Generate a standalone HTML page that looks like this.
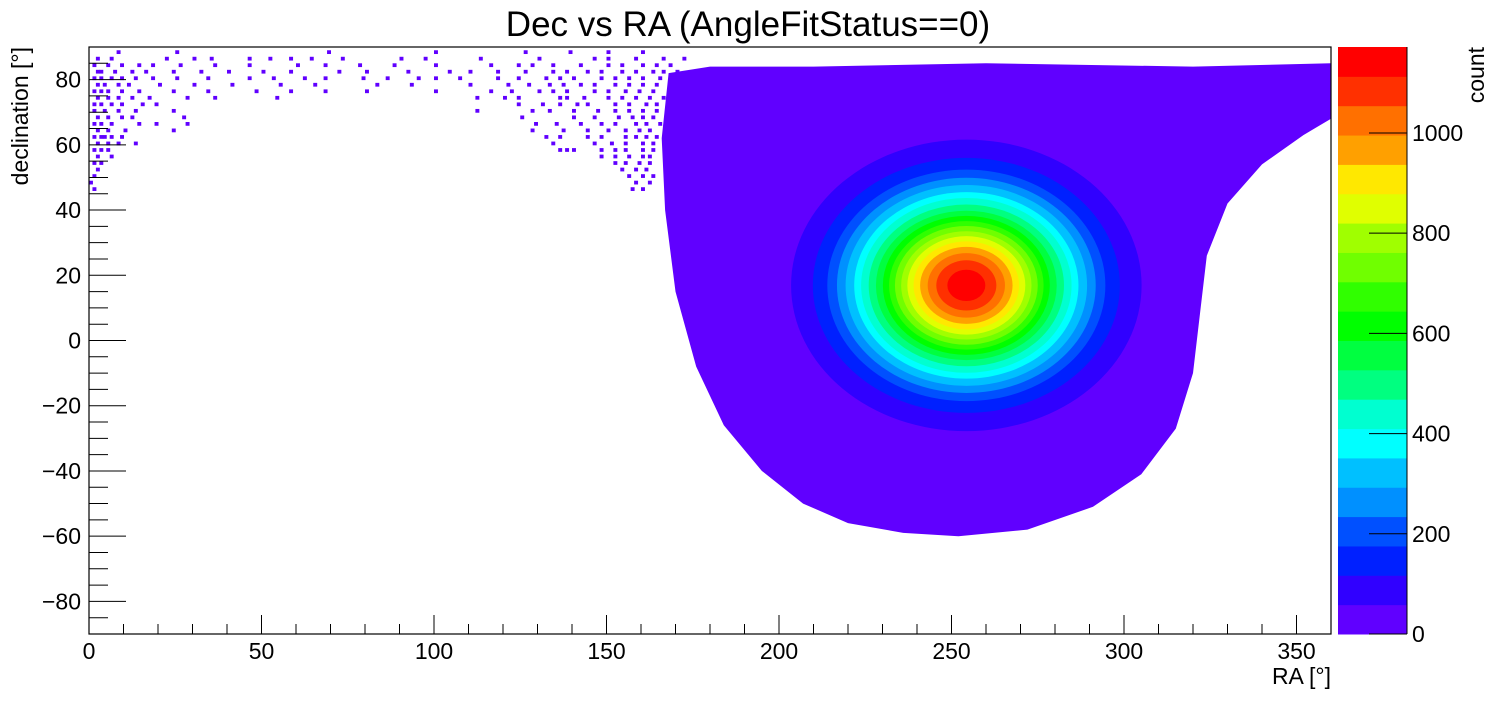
<!DOCTYPE html>
<html><head><meta charset="utf-8"><style>
html,body{margin:0;padding:0;background:#fff;}
svg{display:block;font-family:"Liberation Sans",Arial,sans-serif;}
</style></head><body>
<svg id="chart" width="1496" height="722" viewBox="0 0 1496 722">
<text x="748" y="36" font-size="35" text-anchor="middle">Dec vs RA (AngleFitStatus==0)</text>
<g id="plot"></g>
<g id="axes"></g>
<g id="palette"></g>
<text x="1331" y="684" font-size="23" text-anchor="end">RA [°]</text>
<text transform="translate(28,47) rotate(-90)" font-size="23" text-anchor="end">declination [°]</text>
<text transform="translate(1484,47) rotate(-90)" font-size="23" text-anchor="end">count</text>
</svg>
<script>
// ---- data ----
const paletteColors = ["#6000ff","#3000ff","#0020ff","#0050ff","#0090ff","#00c0ff","#00ffff","#00ffd0","#00ff80","#00ff40","#00ff00","#30ff00","#70ff00","#a0ff00","#e0ff00","#ffe800","#ffa000","#ff7000","#ff3000","#ff0000"];
const xTickLabels = [0,50,100,150,200,250,300,350];
const yTickLabels = [-80,-60,-40,-20,0,20,40,60,80];
const zTickLabels = [0,200,400,600,800,1000];
const peakCenter = [254.3, 16.9];            // RA, Dec of peak
const levelRadiusRA  = [50.8,44.5,40.3,37.5,35.0,32.5,30.5,28.3,26.2,24.2,22.4,20.7,18.9,17.1,15.3,13.4,11.2,8.7,5.5];
const levelRadiusDec = [44.7,39.1,35.5,33.0,30.8,28.6,26.8,24.8,22.9,21.3,19.7,18.2,16.6,15.1,13.5,11.8,9.9,7.7,4.8];
const outerRA  = [168,166,167,170,176,184,195,207,220,236,252,272,291,305,315,320,322,324,330,340,352,360,360,320,260,210,180];
const outerDec = [82,62,40,15,-8,-26,-40,-50,-56,-59,-60,-58,-51,-41,-27,-10,8,26,42,54,63,68,85,84,85,84,84];
const sparseDec = [88,86,84,82,80,78,76,74,72,70,68,66,64,62,60,58,56,54,52,50,48,46];
const sparseRA = [
 [8,25,69,100,126,139,150,160],
 [2,6,22,30,35,46,52,58,64,73,90,97,113,130,146,150,158,166,172],
 [1,5,9,14,18,26,36,46,60,68,78,88,100,116,124,128,134,142,150,154,160,164,168],
 [2,3,7,12,16,24,32,40,50,58,72,80,92,104,110,118,126,134,138,144,148,154,158,163,166,170],
 [1,3,6,9,13,18,25,34,46,53,62,68,79,86,95,100,107,118,124,132,136,140,148,152,156,160,165,171],
 [2,4,8,11,20,30,41,55,65,83,93,110,121,127,133,137,142,146,152,156,160,164,168],
 [1,3,5,9,14,24,34,48,58,68,80,100,116,122,130,134,138,146,150,155,159,163,170],
 [2,5,8,12,17,28,36,54,112,120,124,136,138,143,150,154,158,162,166],
 [1,3,6,9,15,19,124,131,136,141,144,152,156,161,164,168],
 [1,4,8,13,24,112,128,133,140,147,152,156,160,164],
 [2,5,9,12,27,125,140,146,153,157,160,163],
 [1,3,6,14,19,28,129,135,142,148,152,158,161,165],
 [2,5,10,24,128,137,144,150,155,159,162],
 [1,3,4,6,9,132,136,144,148,155,158,161,164],
 [2,5,8,13,134,146,151,155,160,163],
 [1,3,5,136,138,140,148,152,155,160,163],
 [2,6,148,152,156,160,162],
 [1,3,152,155,159,162],
 [2,154,158,161],
 [1,156,160,163],
 [0,158,162],
 [1,157,160]
];
const zMax = 1171.6;
// ---- scales ----
const X0=89,X1=1331,Y0=47,Y1=634;
const xs = ra => X0 + ra*(X1-X0)/360;
const ys = dec => Y1 - (dec+90)*(Y1-Y0)/180;
const zs = c => Y1 - c*(Y1-Y0)/zMax;
const NS="http://www.w3.org/2000/svg";
function mk(tag, attrs, parent){const e=document.createElementNS(NS,tag);for(const k in attrs)e.setAttribute(k,attrs[k]);parent.appendChild(e);return e;}
const plot=document.getElementById('plot'), axes=document.getElementById('axes'), pal=document.getElementById('palette');
const bw=(X1-X0)/360, bh=(Y1-Y0)/180;
sparseDec.forEach((d,i)=>{sparseRA[i].forEach(r=>{
  const c=mk('rect',{x:xs(r),y:ys(d+1),width:bw+0.5,height:bh+0.5,fill:paletteColors[0]},plot);
  
  
});});
const pts=outerRA.map((r,i)=>xs(r).toFixed(1)+','+ys(outerDec[i]).toFixed(1)).join(' ');
const poly=mk('polygon',{points:pts,fill:paletteColors[0]},plot);


levelRadiusRA.forEach((rx,i)=>{
  const e=mk('ellipse',{cx:xs(peakCenter[0]),cy:ys(peakCenter[1]),rx:rx*bw,ry:levelRadiusDec[i]*bh,fill:paletteColors[i+1]},plot);
  
  
});
const fr=mk('rect',{x:X0,y:Y0,width:X1-X0,height:Y1-Y0,fill:'none',stroke:'#000','stroke-width':1.2},axes);


for(let v=0;v<=360;v+=10){const maj=v%50===0;mk('line',{x1:xs(v),x2:xs(v),y1:Y1,y2:Y1-(maj?19:10),stroke:'#000','stroke-width':1},axes);}
xTickLabels.forEach(v=>{const t=mk('text',{x:xs(v),y:Y1+25,'font-size':23,'text-anchor':'middle'},axes);t.textContent=v;
  
  });
for(let v=-90;v<=90;v+=5){const maj=v%20===0;mk('line',{x1:X0,x2:X0+(maj?37:19),y1:ys(v),y2:ys(v),stroke:'#000','stroke-width':1},axes);}
yTickLabels.forEach(v=>{const t=mk('text',{x:X0-8,y:ys(v)+8,'font-size':23,'text-anchor':'end'},axes);t.textContent=v<0?'\u2212'+(-v):v;
  
  });
const PX0=1338,PX1=1407;
paletteColors.forEach((c,i)=>{const lo=i*zMax/20,hi=(i+1)*zMax/20;
  const r=mk('rect',{x:PX0,y:zs(hi),width:PX1-PX0,height:zs(lo)-zs(hi)+0.5,fill:c},pal);
  
  });
mk('line',{x1:PX1,x2:PX1,y1:Y0,y2:Y1,stroke:'#000','stroke-width':1},pal);
zTickLabels.forEach(v=>{mk('line',{x1:PX1-38,x2:PX1,y1:zs(v),y2:zs(v),stroke:'#000','stroke-width':1},pal);
  const t=mk('text',{x:PX1+5,y:zs(v)+8,'font-size':23},pal);t.textContent=v;
  
  });
</script>
</body></html>
